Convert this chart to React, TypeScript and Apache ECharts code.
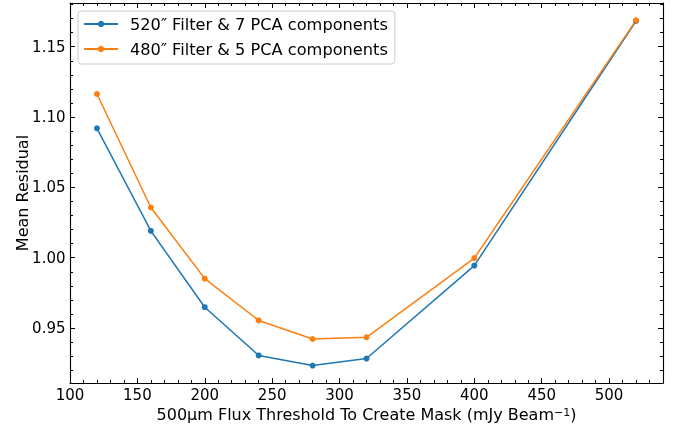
import React, { useEffect, useRef } from "react";
import * as echarts from "echarts";

const thresholds = [120, 160, 200, 240, 280, 320, 400, 520];
const residual520 = [1.092, 1.019, 0.9648, 0.9305, 0.9233, 0.9283, 0.9944, 1.1683];
const residual480 = [1.1164, 1.0357, 0.9851, 0.9554, 0.9422, 0.9434, 0.9997, 1.1688];
const seriesNames = ["520\u2033 Filter & 7 PCA components", "480\u2033 Filter & 5 PCA components"];
const xMajorTicks = [100, 150, 200, 250, 300, 350, 400, 450, 500];
const xMinorTicks = [110, 120, 130, 140, 160, 170, 180, 190, 210, 220, 230, 240, 260, 270, 280, 290, 310, 320, 330, 340, 360, 370, 380, 390, 410, 420, 430, 440, 460, 470, 480, 490, 510, 520, 530];
const yMajorTicks = [0.95, 1.0, 1.05, 1.1, 1.15];
const yMinorTicks = [0.92, 0.93, 0.94, 0.96, 0.97, 0.98, 0.99, 1.01, 1.02, 1.03, 1.04, 1.06, 1.07, 1.08, 1.09, 1.11, 1.12, 1.13, 1.14, 1.16, 1.17, 1.18];
const xTitleMain = "500\u00b5m Flux Threshold To Create Mask (mJy Beam";
const xTitleSup = "\u22121";
const xTitleEnd = ")";
const yTitle = "Mean Residual";
const colors = ["#1f77b4", "#ff7f0e"];

const FONT = "DejaVu Sans";
const X_MIN = 100, X_MAX = 540, Y_MIN = 0.9109, Y_MAX = 1.1811;

export default function App() {
  const ref = useRef<HTMLDivElement>(null);
  useEffect(() => {
    if (!ref.current) return;
    const chart = echarts.init(ref.current, undefined, { renderer: "svg" });
    const line = { show: true, lineStyle: { color: "#000", width: 1.1 } };
    const noLine = { show: false };
    const mkX = (pos: string, ticks: number[], len: number, labels: boolean, withName: boolean) => ({
      type: "value", position: pos, min: X_MIN, max: X_MAX,
      axisLine: labels ? line : noLine,
      axisTick: { show: true, inside: true, length: len, customValues: ticks, lineStyle: { color: "#000", width: 1 } },
      axisLabel: labels && pos === "bottom"
        ? { show: true, customValues: ticks, fontFamily: FONT, fontSize: 15, color: "#000", margin: 4 }
        : { show: false },
      splitLine: { show: false },
      name: withName ? `{a|${xTitleMain}}{s|${xTitleSup}}{a|${xTitleEnd}}` : "",
      nameLocation: "middle", nameGap: 21,
      nameTextStyle: {
        fontFamily: FONT, fontSize: 16, color: "#000",
        rich: {
          a: { fontFamily: FONT, fontSize: 16, color: "#000" },
          s: { fontFamily: FONT, fontSize: 11, color: "#000", verticalAlign: "top" },
        },
      },
    });
    const mkY = (pos: string, ticks: number[], len: number, labels: boolean, withName: boolean) => ({
      type: "value", position: pos, min: Y_MIN, max: Y_MAX,
      axisLine: labels ? line : noLine,
      axisTick: { show: true, inside: true, length: len, customValues: ticks, lineStyle: { color: "#000", width: 1 } },
      axisLabel: labels && pos === "left"
        ? { show: true, customValues: ticks, fontFamily: FONT, fontSize: 15, color: "#000", margin: 4.5, formatter: (v: number) => v.toFixed(2) }
        : { show: false },
      splitLine: { show: false },
      name: withName ? yTitle : "",
      nameLocation: "middle", nameGap: 40, nameMoveOverlap: false,
      nameTextStyle: { fontFamily: FONT, fontSize: 16, color: "#000" },
    });
    const toData = (ys: number[]) => thresholds.map((x, i) => [x, ys[i]]);
    chart.setOption({
      animation: false,
      grid: { left: 70, right: 15, top: 3, bottom: 45, containLabel: false },
      xAxis: [
        mkX("bottom", xMajorTicks, 5, true, true),
        mkX("bottom", xMinorTicks, 3, false, false),
        mkX("top", xMajorTicks, 5, true, false),
        mkX("top", xMinorTicks, 3, false, false),
      ],
      yAxis: [
        mkY("left", yMajorTicks, 5, true, true),
        mkY("left", yMinorTicks, 3, false, false),
        mkY("right", yMajorTicks, 5, true, false),
        mkY("right", yMinorTicks, 3, false, false),
      ],
      legend: {
        show: true, orient: "vertical", left: 78, top: 11,
        data: seriesNames,
        itemWidth: 34, itemHeight: 8, itemGap: 9,
        padding: [5, 7, 7, 5],
        backgroundColor: "rgba(255,255,255,0.8)",
        borderColor: "#cccccc", borderWidth: 1, borderRadius: 3,
        textStyle: { fontFamily: FONT, fontSize: 16.2, color: "#000", padding: [0, 0, 0, 7] },
      },
      series: seriesNames.map((name, i) => ({
        name, type: "line",
        data: toData(i === 0 ? residual520 : residual480),
        xAxisIndex: 0, yAxisIndex: 0,
        symbol: "circle", symbolSize: 6, showSymbol: true,
        lineStyle: { color: colors[i], width: 1.5 },
        itemStyle: { color: colors[i] },
        emphasis: { disabled: true },
      })),
    });
    return () => chart.dispose();
  }, []);
  return <div ref={ref} style={{ position: "fixed", left: 0, top: 0, width: 678, height: 428 }} />;
}
